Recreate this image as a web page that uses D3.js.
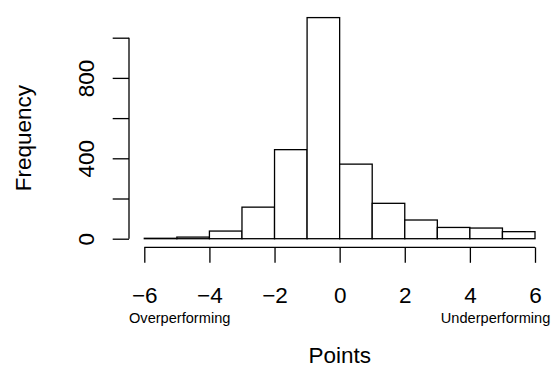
<!DOCTYPE html>
<html>
<head>
<meta charset="utf-8">
<script src="https://cdn.jsdelivr.net/npm/d3@7"></script>
<style>
  html, body { margin: 0; padding: 0; background: #fff; }
  svg { display: block; font-family: "Liberation Sans", Arial, Helvetica, sans-serif; }
</style>
</head>
<body>
<svg id="chart" width="557" height="370"></svg>
<script>
// Histogram of points: bin edges and counts per unit-wide bin
const binStarts = [-6, -5, -4, -3, -2, -1, 0, 1, 2, 3, 4, 5];
const binWidth = 1;
const counts = [2, 8, 38, 157, 443, 1100, 371, 176, 93, 56, 53, 35];

// Axis ticks
const xTicks = [-6, -4, -2, 0, 2, 4, 6];
const yTicks = [0, 200, 400, 600, 800, 1000];
const yTickLabels = [0, 400, 800];

// Axis titles and side notes
const xTitle = "Points";
const yTitle = "Frequency";
const leftNote = "Overperforming";
const rightNote = "Underperforming";

const svg = d3.select("#chart");

const x = d3.scaleLinear().domain([-6, 6]).range([144.3, 535]);
const y = d3.scaleLinear().domain([0, 1000]).range([238.7, 37.7]);

const bigFont = 22.5;
const smallFont = 14.6;
const lw = 1.3;

// Bars
svg.append("g")
  .selectAll("rect")
  .data(binStarts.map((s, i) => ({ s, c: counts[i] })))
  .join("rect")
  .attr("x", d => x(d.s))
  .attr("width", d => x(d.s + binWidth) - x(d.s))
  .attr("y", d => y(d.c))
  .attr("height", d => y(0) - y(d.c))
  .attr("fill", "#fff")
  .attr("stroke", "#000")
  .attr("stroke-width", lw);

// X axis (offset below the bars)
const xAxis = d3.axisBottom(x)
  .tickValues(xTicks)
  .tickSize(15.5)
  .tickSizeOuter(0)
  .tickPadding(0)
  .tickFormat(d3.format("d"));
const gx = svg.append("g")
  .attr("transform", "translate(0,247.3)")
  .call(xAxis);
gx.select(".domain").attr("stroke-width", lw).attr("d", `M${x(-6)},0H${x(6)}`);
gx.selectAll(".tick line").attr("stroke-width", lw);
gx.selectAll(".tick text")
  .attr("y", 55.7)
  .attr("dy", null)
  .attr("font-size", bigFont)
  .attr("font-family", "Liberation Sans, Arial, sans-serif")
  .attr("fill", "#000");

// Y axis (offset left of the bars)
const yAxis = d3.axisLeft(y)
  .tickValues(yTicks)
  .tickSize(16.3)
  .tickSizeOuter(0)
  .tickFormat(d => yTickLabels.includes(d) ? d3.format("d")(d) : "");
const gy = svg.append("g")
  .attr("transform", "translate(129,0)")
  .call(yAxis);
gy.select(".domain").attr("stroke-width", lw).attr("d", `M0,${y(0)}V${y(1000)}`);
gy.selectAll(".tick line").attr("stroke-width", lw);
gy.selectAll(".tick text")
  .attr("x", null)
  .attr("dy", null)
  .attr("text-anchor", "middle")
  .attr("transform", "translate(-35,0) rotate(-90)")
  .attr("font-size", bigFont)
  .attr("font-family", "Liberation Sans, Arial, sans-serif")
  .attr("fill", "#000");

// Axis titles
svg.append("text")
  .attr("x", (x(-6) + x(6)) / 2)
  .attr("y", 363.3)
  .attr("text-anchor", "middle")
  .attr("font-size", bigFont)
  .text(xTitle);

svg.append("text")
  .attr("transform", `translate(31,${(y(0) + y(1000)) / 2}) rotate(-90)`)
  .attr("text-anchor", "middle")
  .attr("font-size", bigFont)
  .text(yTitle);

// Direction notes under the x axis
svg.append("text")
  .attr("x", x(-6.47))
  .attr("y", 323.3)
  .attr("text-anchor", "start")
  .attr("font-size", smallFont)
  .text(leftNote);

svg.append("text")
  .attr("x", x(6.47))
  .attr("y", 323.3)
  .attr("text-anchor", "end")
  .attr("font-size", smallFont)
  .text(rightNote);
</script>
</body>
</html>
